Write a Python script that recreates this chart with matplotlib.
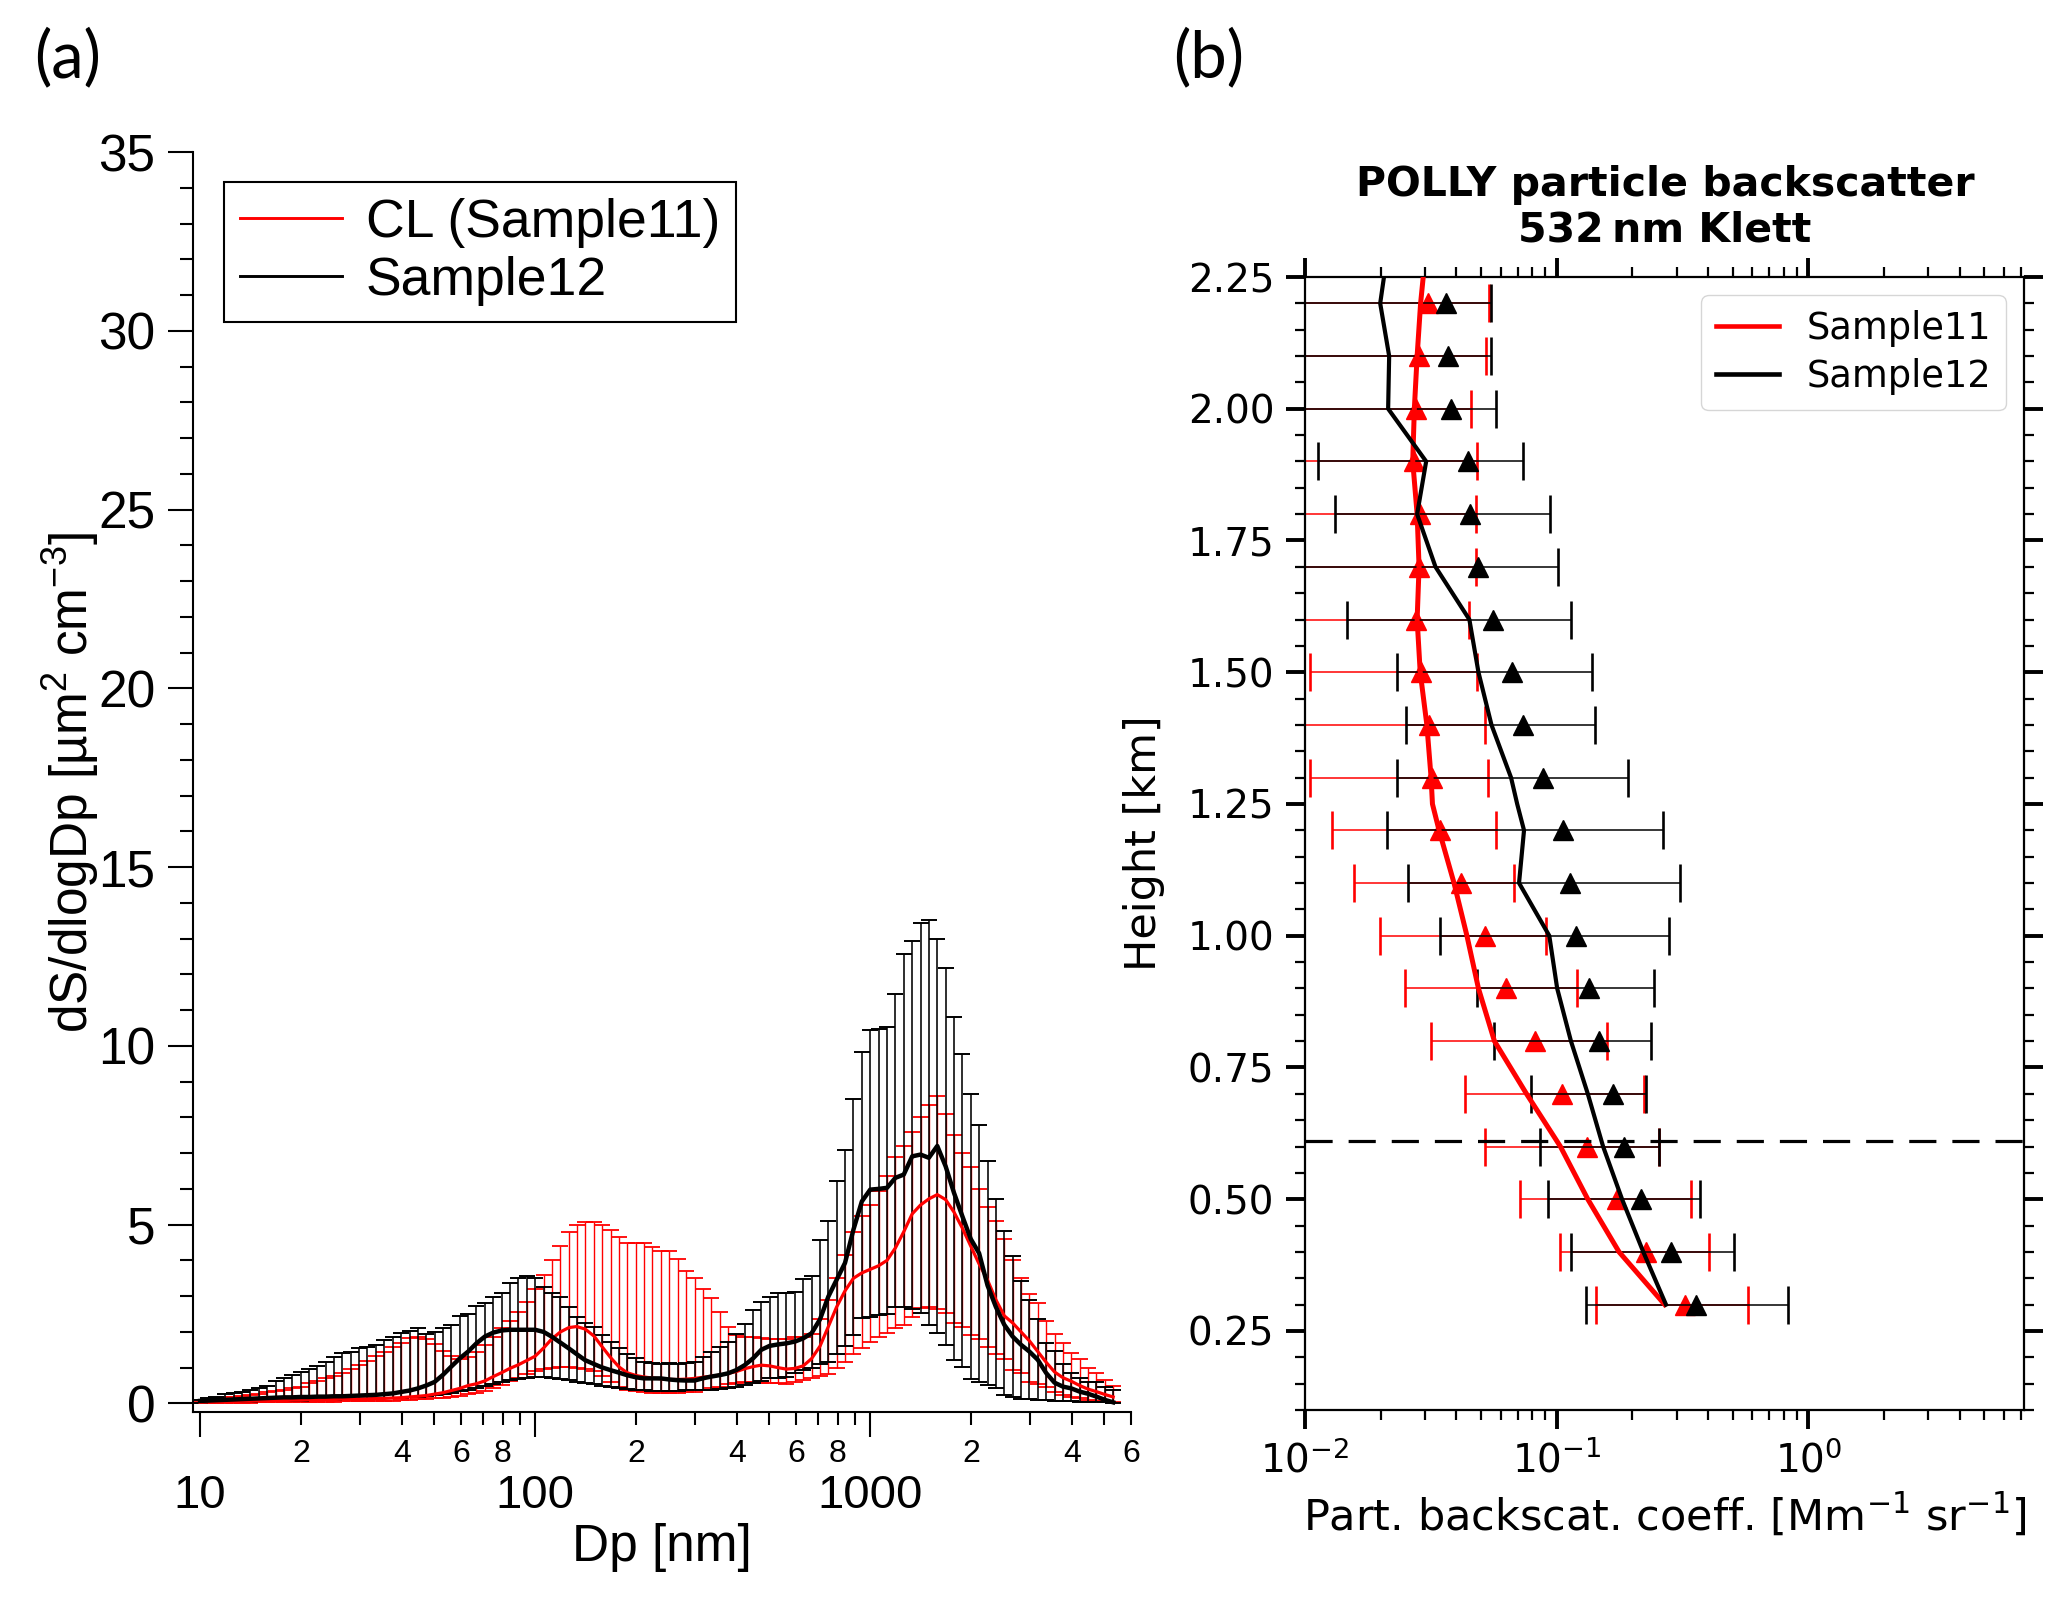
import numpy as np
import matplotlib
matplotlib.use("Agg")
import matplotlib.pyplot as plt
from matplotlib import ticker
from matplotlib.lines import Line2D

# ------------------------------------------------------------------ data (a)
dp_nm = [10.0, 10.6, 11.2, 11.9, 12.6, 13.3, 14.1, 15.0, 15.8, 16.8,
         17.8, 18.8, 20.0, 21.1, 22.4, 23.7, 25.1, 26.6, 28.2, 29.9,
         31.6, 33.5, 35.5, 37.6, 39.8, 42.2, 44.7, 47.3, 50.1, 53.1,
         56.2, 59.6, 63.1, 66.8, 70.8, 75.0, 79.4, 84.1, 89.1, 94.4,
         100, 106, 112, 119, 126, 133, 141, 150, 158, 168,
         178, 188, 200, 211, 224, 237, 251, 266, 282, 299,
         316, 335, 355, 376, 398, 422, 447, 473, 501, 531,
         562, 596, 631, 668, 708, 750, 794, 841, 891, 944,
         1000, 1059, 1122, 1189, 1259, 1334, 1413, 1496, 1585, 1679,
         1778, 1884, 1995, 2113, 2239, 2371, 2512, 2661, 2818, 2985,
         3162, 3350, 3548, 3758, 3981, 4217, 4467, 4732, 5012, 5309]

s11_mean = [0.03, 0.04, 0.04, 0.05, 0.05, 0.06, 0.06, 0.07, 0.07, 0.08,
            0.08, 0.09, 0.09, 0.10, 0.10, 0.11, 0.11, 0.12, 0.12, 0.13,
            0.13, 0.14, 0.14, 0.15, 0.16, 0.18, 0.20, 0.22, 0.26, 0.30,
            0.36, 0.42, 0.50, 0.55, 0.63, 0.75, 0.86, 0.98, 1.08, 1.20,
            1.32, 1.55, 1.80, 2.00, 2.12, 2.15, 2.08, 1.88, 1.60, 1.28,
            1.02, 0.86, 0.78, 0.74, 0.71, 0.69, 0.67, 0.67, 0.68, 0.70,
            0.73, 0.76, 0.79, 0.84, 0.89, 0.97, 1.03, 1.07, 1.05, 1.00,
            0.96, 0.98, 1.05, 1.25, 1.60, 2.15, 2.70, 3.15, 3.50, 3.65,
            3.75, 3.85, 4.00, 4.35, 4.80, 5.30, 5.55, 5.72, 5.84, 5.70,
            5.35, 4.90, 4.40, 3.90, 3.45, 2.90, 2.45, 2.25, 2.00, 1.75,
            1.45, 1.15, 0.88, 0.72, 0.62, 0.50, 0.40, 0.33, 0.25, 0.18]

s11_upper = [0.05, 0.08, 0.10, 0.17, 0.19, 0.21, 0.23, 0.27, 0.31, 0.34,
             0.37, 0.42, 0.47, 0.56, 0.62, 0.70, 0.78, 0.86, 0.95, 1.08,
             1.20, 1.32, 1.45, 1.58, 1.70, 1.82, 1.86, 1.80, 1.65, 1.48,
             1.32, 1.25, 1.30, 1.45, 1.62, 1.85, 2.10, 2.30, 2.55, 2.85,
             3.20, 3.60, 4.00, 4.40, 4.80, 5.00, 5.07, 5.07, 5.00, 4.85,
             4.65, 4.50, 4.48, 4.48, 4.37, 4.25, 4.25, 4.05, 3.70, 3.50,
             3.20, 2.95, 2.55, 2.15, 1.92, 1.87, 1.85, 1.82, 1.80, 1.80,
             1.80, 1.85, 1.85, 1.95, 2.35, 2.90, 3.50, 4.15, 4.80, 5.25,
             5.55, 5.95, 6.35, 6.90, 7.20, 7.60, 8.00, 8.35, 8.60, 8.10,
             7.50, 7.00, 6.60, 6.00, 5.50, 5.10, 4.60, 4.00, 3.50, 3.05,
             2.80, 2.30, 1.95, 1.70, 1.42, 1.25, 1.00, 0.85, 0.65, 0.50]

s11_lower = [0.01, 0.01, 0.01, 0.02, 0.02, 0.02, 0.02, 0.03, 0.03, 0.03,
             0.03, 0.04, 0.04, 0.04, 0.05, 0.05, 0.05, 0.06, 0.06, 0.06,
             0.07, 0.07, 0.08, 0.08, 0.09, 0.10, 0.11, 0.12, 0.14, 0.16,
             0.19, 0.22, 0.26, 0.30, 0.36, 0.43, 0.52, 0.62, 0.72, 0.82,
             0.90, 0.97, 1.00, 1.02, 1.02, 1.00, 0.97, 0.92, 0.78, 0.60,
             0.46, 0.38, 0.34, 0.31, 0.30, 0.30, 0.30, 0.30, 0.31, 0.33,
             0.37, 0.42, 0.47, 0.53, 0.58, 0.61, 0.61, 0.58, 0.57, 0.56,
             0.54, 0.60, 0.66, 0.72, 0.77, 0.82, 0.99, 1.17, 1.39, 1.55,
             1.73, 1.87, 1.97, 2.11, 2.20, 2.41, 2.66, 2.71, 2.64, 2.52,
             2.24, 2.13, 1.92, 1.80, 1.59, 1.39, 1.24, 0.94, 0.85, 0.61,
             0.55, 0.47, 0.33, 0.24, 0.19, 0.14, 0.10, 0.08, 0.06, 0.05]

s12_mean = [0.07, 0.08, 0.09, 0.10, 0.11, 0.12, 0.13, 0.14, 0.15, 0.16,
            0.17, 0.17, 0.18, 0.18, 0.19, 0.19, 0.20, 0.20, 0.21, 0.22,
            0.23, 0.24, 0.26, 0.28, 0.32, 0.36, 0.42, 0.50, 0.60, 0.80,
            1.03, 1.26, 1.45, 1.68, 1.87, 1.98, 2.04, 2.06, 2.06, 2.06,
            2.06, 2.00, 1.87, 1.70, 1.54, 1.38, 1.21, 1.10, 1.01, 0.93,
            0.86, 0.79, 0.73, 0.70, 0.70, 0.70, 0.67, 0.65, 0.64, 0.64,
            0.70, 0.75, 0.79, 0.84, 0.93, 1.07, 1.26, 1.50, 1.61, 1.65,
            1.68, 1.73, 1.82, 1.96, 2.35, 2.99, 3.46, 3.93, 4.86, 5.65,
            5.98, 6.00, 6.03, 6.31, 6.40, 6.91, 6.96, 6.87, 7.20, 6.63,
            5.89, 5.23, 4.60, 4.20, 3.30, 2.70, 2.20, 1.87, 1.64, 1.45,
            1.22, 0.85, 0.58, 0.47, 0.42, 0.33, 0.27, 0.19, 0.10, 0.03]

s12_upper = [0.09, 0.14, 0.18, 0.25, 0.28, 0.31, 0.37, 0.44, 0.49, 0.64,
             0.72, 0.79, 0.87, 0.95, 1.05, 1.15, 1.31, 1.42, 1.45, 1.54,
             1.59, 1.64, 1.78, 1.85, 1.96, 2.03, 2.10, 1.95, 2.00, 2.10,
             2.20, 2.45, 2.50, 2.73, 2.80, 2.97, 3.08, 3.36, 3.50, 3.55,
             3.50, 3.27, 3.08, 2.97, 2.71, 2.41, 2.24, 2.15, 1.92, 1.73,
             1.54, 1.38, 1.26, 1.17, 1.12, 1.10, 1.12, 1.10, 1.12, 1.17,
             1.29, 1.45, 1.57, 1.73, 1.94, 2.22, 2.60, 2.85, 2.99, 3.08,
             3.10, 3.13, 3.48, 3.55, 4.58, 5.10, 6.23, 7.08, 8.52, 9.84,
             10.43, 10.46, 10.53, 11.46, 12.56, 12.94, 13.45, 13.53, 13.00, 12.19,
             10.82, 9.76, 8.64, 7.80, 6.77, 5.72, 4.81, 4.11, 3.43, 2.88,
             2.36, 1.69, 1.48, 1.11, 0.86, 0.70, 0.61, 0.59, 0.45, 0.38]

s12_lower = [0.02, 0.03, 0.03, 0.04, 0.04, 0.05, 0.05, 0.06, 0.06, 0.07,
             0.07, 0.08, 0.08, 0.09, 0.09, 0.10, 0.10, 0.11, 0.11, 0.12,
             0.12, 0.13, 0.14, 0.15, 0.16, 0.17, 0.19, 0.21, 0.24, 0.27,
             0.30, 0.34, 0.38, 0.43, 0.48, 0.54, 0.60, 0.65, 0.68, 0.72,
             0.75, 0.74, 0.72, 0.68, 0.65, 0.61, 0.57, 0.54, 0.50, 0.46,
             0.42, 0.40, 0.38, 0.37, 0.36, 0.36, 0.36, 0.36, 0.37, 0.37,
             0.37, 0.38, 0.40, 0.42, 0.47, 0.52, 0.58, 0.64, 0.70, 0.72,
             0.75, 0.85, 0.93, 0.98, 1.10, 1.17, 1.39, 1.61, 1.90, 2.38,
             2.43, 2.48, 2.50, 2.69, 2.69, 2.64, 2.52, 2.20, 1.98, 1.64,
             1.22, 1.01, 0.68, 0.60, 0.52, 0.42, 0.24, 0.17, 0.13, 0.11,
             0.10, 0.09, 0.08, 0.07, 0.06, 0.05, 0.05, 0.04, 0.03, 0.02]

x_major_ticks = [10, 100, 1000]
x_major_labels = ["10", "100", "1000"]
x_minor_ticks = [20, 30, 40, 50, 60, 70, 80, 90,
                 200, 300, 400, 500, 600, 700, 800, 900,
                 2000, 3000, 4000, 5000, 6000]
x_minor_labels = ["2", "", "4", "", "6", "", "8", "",
                  "2", "", "4", "", "6", "", "8", "",
                  "2", "", "4", "", "6"]

# ------------------------------------------------------------------ data (b)
bin_height_km = [2.2, 2.1, 2.0, 1.9, 1.8, 1.7, 1.6, 1.5, 1.4, 1.3,
                 1.2, 1.1, 1.0, 0.9, 0.8, 0.7, 0.6, 0.5, 0.4, 0.3]
b11_mark = [0.0308, 0.0283, 0.0276, 0.0272, 0.0286, 0.0283, 0.0276, 0.0288, 0.0311, 0.0320,
            0.0343, 0.0416, 0.0518, 0.0627, 0.0821, 0.105, 0.132, 0.173, 0.226, 0.323]
b11_low = [0.0, 0.0, 0.0, 0.0, 0.0, 0.0, 0.0, 0.0105, 0.0, 0.0105,
           0.0128, 0.0156, 0.0199, 0.0249, 0.0317, 0.0434, 0.0520, 0.0718, 0.103, 0.144]
b11_high = [0.0541, 0.0524, 0.0457, 0.0483, 0.0478, 0.0476, 0.0449, 0.0483, 0.0518, 0.0532,
            0.0573, 0.0676, 0.0906, 0.121, 0.158, 0.222, 0.254, 0.341, 0.405, 0.575]
b12_mark = [0.0365, 0.0371, 0.0379, 0.0444, 0.0452, 0.0489, 0.0560, 0.0667, 0.0734, 0.0879,
            0.106, 0.113, 0.119, 0.134, 0.147, 0.167, 0.186, 0.216, 0.284, 0.357]
b12_low = [0.0, 0.0, 0.0, 0.0113, 0.0131, 0.0, 0.0147, 0.0233, 0.0251, 0.0233,
           0.0211, 0.0257, 0.0345, 0.0483, 0.0566, 0.0791, 0.0858, 0.0923, 0.114, 0.131]
b12_high = [0.0550, 0.0547, 0.0573, 0.0737, 0.0939, 0.101, 0.114, 0.138, 0.142, 0.192,
            0.265, 0.309, 0.280, 0.244, 0.238, 0.227, 0.254, 0.372, 0.505, 0.830]

prof_height_km = [2.25, 2.2, 2.1, 2.0, 1.9, 1.8, 1.7, 1.6, 1.5, 1.4, 1.3,
                  1.25, 1.2, 1.1, 1.0, 0.9, 0.8, 0.7, 0.6, 0.5, 0.4, 0.3]
prof11 = [0.0295, 0.0288, 0.0279, 0.0272, 0.0268, 0.0279, 0.0284, 0.0279, 0.0287, 0.0305, 0.0317,
          0.0321, 0.0341, 0.0391, 0.0440, 0.0489, 0.0566, 0.0759, 0.1035, 0.133, 0.177, 0.269]
prof12 = [0.0206, 0.0199, 0.0216, 0.0214, 0.0303, 0.0279, 0.0330, 0.0450, 0.0489, 0.0551, 0.0659,
          0.0697, 0.0742, 0.0709, 0.0935, 0.1005, 0.114, 0.133, 0.153, 0.182, 0.221, 0.272]
pbl_height_km = 0.61

RED = "#ff0000"
W, H = 2067, 1603

plt.rcParams["mathtext.rm"] = "Liberation Sans"
plt.rcParams["mathtext.it"] = "Liberation Sans:italic"
plt.rcParams["mathtext.bf"] = "Liberation Sans:bold"

fig = plt.figure(figsize=(W / 100, H / 100), dpi=100)
fig.patch.set_facecolor("white")

# ======================================================== panel (a)
plt.rcParams["font.family"] = ["Liberation Sans", "DejaVu Sans"]
axL = fig.add_axes([193 / W, 1 - 1412 / H, (1131 - 193) / W, (1412 - 152) / H])
axL.set_xscale("log")

dp = np.array(dp_nm)
m11, u11, l11 = map(np.array, (s11_mean, s11_upper, s11_lower))
m12, u12, l12 = map(np.array, (s12_mean, s12_upper, s12_lower))

axL.errorbar(dp, m11, yerr=[np.clip(m11 - l11, 0, None), np.clip(u11 - m11, 0, None)],
             fmt="none", ecolor=RED, elinewidth=1.0, capsize=5.5, capthick=1.3, zorder=2)
axL.errorbar(dp, m12, yerr=[np.clip(m12 - l12, 0, None), np.clip(u12 - m12, 0, None)],
             fmt="none", ecolor="black", elinewidth=1.15, capsize=5.5, capthick=1.4, zorder=3)
axL.plot(dp, m11, color=RED, lw=2.3, zorder=4)
axL.plot(dp, m12, color="black", lw=3.2, zorder=5)

axL.set_xlim(9.53, 6000)
axL.set_ylim(-0.24, 35)
for s in ("top", "right"):
    axL.spines[s].set_visible(False)
for s in ("left", "bottom"):
    axL.spines[s].set_linewidth(1.5)

axL.yaxis.set_major_locator(ticker.MultipleLocator(5))
axL.yaxis.set_minor_locator(ticker.MultipleLocator(1))
axL.xaxis.set_major_locator(ticker.FixedLocator(x_major_ticks))
axL.xaxis.set_major_formatter(ticker.FixedFormatter(x_major_labels))
axL.xaxis.set_minor_locator(ticker.FixedLocator(x_minor_ticks))
axL.xaxis.set_minor_formatter(ticker.FixedFormatter(x_minor_labels))

axL.tick_params(axis="y", which="major", direction="out", length=18, width=1.5,
                labelsize=37, pad=9, labelfontfamily="Liberation Sans")
axL.tick_params(axis="y", which="minor", direction="out", length=9.4, width=1.5)
axL.tick_params(axis="x", which="major", direction="out", length=18, width=1.5,
                labelsize=34, pad=27, labelfontfamily="Liberation Sans")
axL.tick_params(axis="x", which="minor", direction="out", length=9.4, width=1.5,
                labelsize=23, pad=10, labelfontfamily="Liberation Sans")

axL.set_xlabel("Dp [nm]", fontsize=37, fontfamily="Liberation Sans")
axL.xaxis.set_label_coords(0.5, -0.088)
axL.set_ylabel(r"dS/dlogDp [µm$^{2}$ cm$^{-3}$]", fontsize=37,
               fontfamily="Liberation Sans", math_fontfamily="custom")
axL.yaxis.set_label_coords(-0.098, 0.5)

hL = [Line2D([], [], color=RED, lw=2.1), Line2D([], [], color="black", lw=2.1)]
legL = axL.legend(hL, ["CL (Sample11)", "Sample12"], loc="upper left",
                  bbox_to_anchor=(224 / W, 1 - 182 / H), bbox_transform=fig.transFigure,
                  borderaxespad=0, fancybox=False, framealpha=1, edgecolor="black",
                  prop={"family": "Liberation Sans", "size": 38.5},
                  handlelength=1.9, handletextpad=0.45, borderpad=0.3, labelspacing=0.15)
legL.get_frame().set_linewidth(1.5)

# ======================================================== panel (b)
plt.rcParams["font.family"] = ["DejaVu Sans"]
axR = fig.add_axes([1305 / W, 1 - 1410 / H, (2024 - 1305) / W, (1410 - 277) / H])
axR.set_xscale("log")

hb = np.array(bin_height_km)
x11, lo11, hi11 = map(np.array, (b11_mark, b11_low, b11_high))
x12, lo12, hi12 = map(np.array, (b12_mark, b12_low, b12_high))

axR.errorbar(x11, hb, xerr=[x11 - lo11, hi11 - x11], fmt="^", color=RED, ms=14,
             ecolor=RED, elinewidth=1.1, capsize=14, capthick=1.9, zorder=2)
axR.errorbar(x12, hb, xerr=[x12 - lo12, hi12 - x12], fmt="^", color="black", ms=14,
             ecolor="black", elinewidth=1.1, capsize=14, capthick=1.9, zorder=3)
axR.plot(prof11, prof_height_km, color=RED, lw=3.6, zorder=4)
axR.plot(prof12, prof_height_km, color="black", lw=3.0, zorder=5)
axR.axhline(pbl_height_km, color="black", lw=2.3, ls=(0, (8.5, 5)), zorder=6)

axR.set_xlim(0.01, 7.2)
axR.set_ylim(0.1, 2.25)
for s in axR.spines.values():
    s.set_linewidth(1.6)

axR.yaxis.set_major_locator(ticker.MultipleLocator(0.25))
axR.yaxis.set_minor_locator(ticker.MultipleLocator(0.05))
axR.yaxis.set_major_formatter(ticker.FormatStrFormatter("%.2f"))
axR.xaxis.set_major_locator(ticker.LogLocator(base=10, numticks=10))
axR.xaxis.set_minor_locator(ticker.LogLocator(base=10, subs=np.arange(2, 10), numticks=20))
axR.xaxis.set_minor_formatter(ticker.NullFormatter())

axR.tick_params(which="both", direction="out", top=True, right=True,
                labelsize=28, labelfontfamily="DejaVu Sans")
axR.tick_params(which="major", length=14, width=2.8, pad=8)
axR.tick_params(which="minor", length=7.5, width=1.6)

axR.set_xlabel(r"Part. backscat. coeff. [Mm$^{-1}$ sr$^{-1}$]", fontsize=31)
axR.xaxis.set_label_coords(0.5, -0.072)
axR.set_ylabel("Height [km]", fontsize=31)
axR.yaxis.set_label_coords(-0.195, 0.5)

fig.text(1665 / W, 1 - 196 / H, "POLLY particle backscatter", ha="center", va="baseline",
         fontsize=29.5, fontweight="bold", fontfamily="DejaVu Sans")
fig.text(1665 / W, 1 - 242 / H, "532\u2009nm Klett", ha="center", va="baseline",
         fontsize=29.5, fontweight="bold", fontfamily="DejaVu Sans")

hR = [Line2D([], [], color=RED, lw=3.3), Line2D([], [], color="black", lw=3.3)]
axR.legend(hR, ["Sample11", "Sample12"], loc="upper right", fontsize=26.5,
           handlelength=1.7, handletextpad=0.75, labelspacing=0.3)

# panel letters
fig.text(68 / W, 1 - 58 / H, "(a)", ha="center", va="center", fontsize=47, fontfamily="Lato")
fig.text(1209 / W, 1 - 58 / H, "(b)", ha="center", va="center", fontsize=47, fontfamily="Lato")

fig.savefig("out.png", dpi=100, facecolor="white")
